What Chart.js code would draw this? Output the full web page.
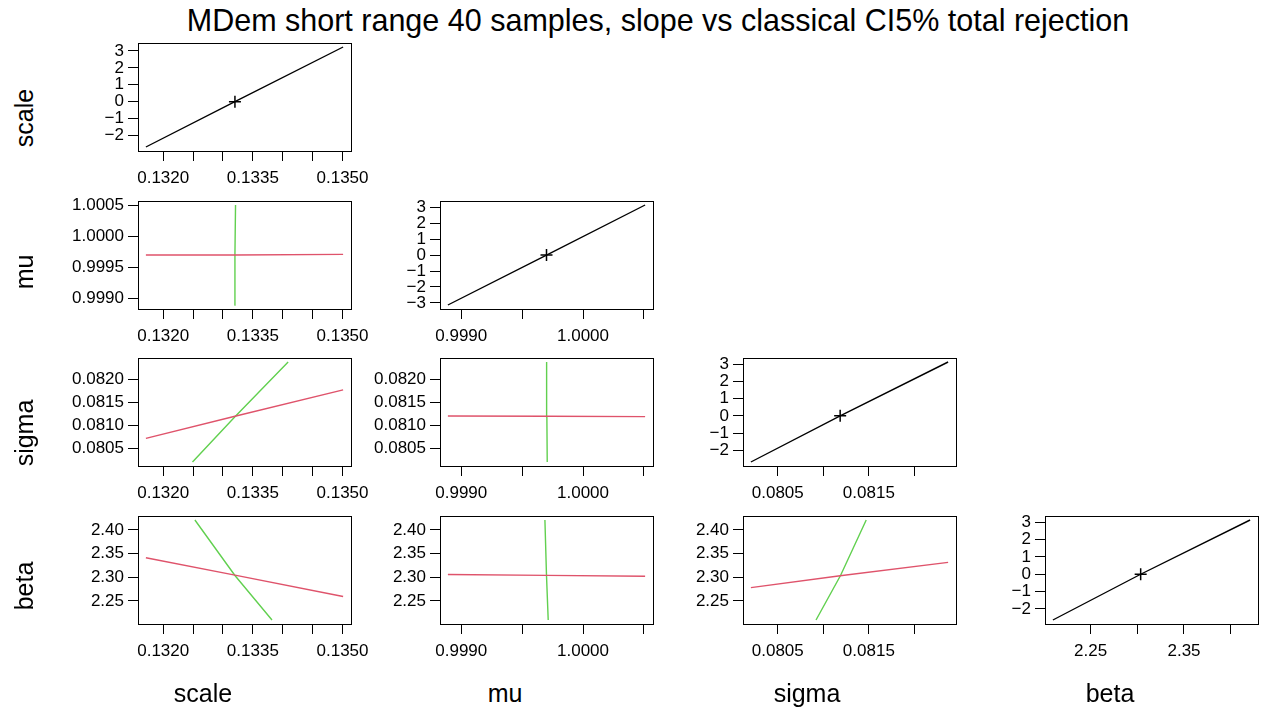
<!DOCTYPE html>
<html>
<head>
<meta charset="utf-8">
<script src="https://cdn.jsdelivr.net/npm/chart.js@4.4.0/dist/chart.umd.min.js"></script>
<style>
  body { margin: 0; background: #fff; width: 1262px; height: 713px; position: relative; overflow: hidden;
         font-family: "Liberation Sans", Arial, sans-serif; }
  canvas { position: absolute; }
  .t { position: absolute; white-space: nowrap; color: #000; }
</style>
</head>
<body>
<div class="t" id="title" style="left:0;width:1316px;text-align:center;top:5px;font-size:30.5px;line-height:30px;">MDem short range 40 samples, slope vs classical CI5% total rejection</div>
<script>
// parameter names (rows / columns)
const varNames = ['scale', 'mu', 'sigma', 'beta'];

// profile grid of each parameter (low end, MLE, high end) and its signed root deviance
const scaleGrid = [0.13171, 0.13320, 0.13501];
const muGrid = [0.99889, 0.99970, 1.00051];
const sigmaGrid = [0.080205, 0.081185, 0.08237];
const betaGrid = [2.2096, 2.3036, 2.4208];

const scaleZ = [-2.67, 0, 3.23];
const muZ = [-3.13, 0, 3.14];
const sigmaZ = [-2.68, 0, 3.13];
const betaZ = [-2.64, 0, 3.13];

// the other parameters along each profile
const scaleProfMu = [0.99970, 0.99970, 0.99971];
const scaleProfSigma = [0.080717, 0.081195, 0.081767];
const scaleProfBeta = [2.341, 2.3045, 2.2592];

const muProfScale = [0.13319, 0.13320, 0.13321];
const muProfSigma = [0.081200, 0.081194, 0.081188];
const muProfBeta = [2.3056, 2.3039, 2.3021];

const sigmaProfScale = [0.13249, 0.13320, 0.13409];
const sigmaProfMu = [0.999706, 0.999703, 0.999701];
const sigmaProfBeta = [2.278, 2.303, 2.3314];

const betaProfScale = [0.13382, 0.13320, 0.13253];
const betaProfMu = [0.999714, 0.99970, 0.999687];
const betaProfSigma = [0.08092, 0.081189, 0.081471];

// tick positions and labels
const scaleTicks = [0.1320, 0.1325, 0.1330, 0.1335, 0.1340, 0.1345, 0.1350];
const scaleXLabels = ['0.1320', '', '', '0.1335', '', '', '0.1350'];
const muTicks = [0.9990, 0.9995, 1.0000, 1.0005];
const muXLabels = ['0.9990', '', '1.0000', ''];
const muYLabels = ['0.9990', '0.9995', '1.0000', '1.0005'];
const sigmaTicks = [0.0805, 0.0810, 0.0815, 0.0820];
const sigmaXLabels = ['0.0805', '', '0.0815', ''];
const sigmaYLabels = ['0.0805', '0.0810', '0.0815', '0.0820'];
const betaTicks = [2.25, 2.30, 2.35, 2.40];
const betaXLabels = ['2.25', '', '2.35', ''];
const betaYLabels = ['2.25', '2.30', '2.35', '2.40'];
const zTicks = [-2, -1, 0, 1, 2, 3];
const zTicksWide = [-3, -2, -1, 0, 1, 2, 3];

const RED = '#DF536B';
const GREEN = '#61D04F';
const TICK_FONT = { family: 'Liberation Sans, Arial, sans-serif', size: 17 };

const grids = [scaleGrid, muGrid, sigmaGrid, betaGrid];
const zs = [scaleZ, muZ, sigmaZ, betaZ];
const prof = [
  [scaleGrid, scaleProfMu, scaleProfSigma, scaleProfBeta],
  [muProfScale, muGrid, muProfSigma, muProfBeta],
  [sigmaProfScale, sigmaProfMu, sigmaGrid, sigmaProfBeta],
  [betaProfScale, betaProfMu, betaProfSigma, betaGrid]
];
const xTicks = [scaleTicks, muTicks, sigmaTicks, betaTicks];
const xLabels = [scaleXLabels, muXLabels, sigmaXLabels, betaXLabels];
const yLabels = [null, muYLabels, sigmaYLabels, betaYLabels];

const minus = s => String(s).replace('-', '\u2212');

// R style 4% range extension
function ext(arr) {
  const lo = Math.min(...arr), hi = Math.max(...arr), d = (hi - lo) * 0.04;
  return [lo - d, hi + d];
}
const pts = (xs, ys) => xs.map((x, i) => ({ x: x, y: ys[i] }));

const boxPlugin = {
  id: 'box',
  afterDraw(chart) {
    const a = chart.chartArea, ctx = chart.ctx;
    ctx.save();
    ctx.strokeStyle = '#000';
    ctx.lineWidth = 1;
    ctx.strokeRect(Math.round(a.left) + 0.5, Math.round(a.top) + 0.5,
                   Math.round(a.right - a.left), Math.round(a.bottom - a.top));
    ctx.restore();
  }
};

function lineSet(data, color) {
  return { data: data, showLine: true, borderColor: color, borderWidth: 1.4,
           pointRadius: 0, tension: 0, fill: false };
}

function panel(r, c) {
  const boxL = Math.round(138 + 302.3 * c), boxT = Math.round(43 + 157.5 * r);
  const boxW = 213, boxH = 108;
  const YW = 100, XH = 50, PT = 8, PR = 34;
  const cv = document.createElement('canvas');
  cv.width = YW + boxW + PR;
  cv.height = PT + boxH + XH;
  cv.style.left = (boxL - YW) + 'px';
  cv.style.top = (boxT - PT) + 'px';
  document.body.appendChild(cv);

  let datasets, yTicks, yLab, yRange;
  if (r === c) {
    yTicks = r === 1 ? zTicksWide : zTicks;
    yLab = yTicks.map(minus);
    yRange = ext(zs[r]);
    datasets = [
      lineSet(pts(grids[r], zs[r]), '#000'),
      { data: [{ x: grids[r][1], y: 0 }], pointStyle: 'cross', pointRadius: 6,
        borderColor: '#000', borderWidth: 1.5, showLine: false }
    ];
  } else {
    yTicks = xTicks[r];
    yLab = yLabels[r];
    yRange = ext(grids[r]);
    datasets = [
      lineSet(pts(grids[c], prof[c][r]), RED),
      lineSet(pts(prof[r][c], grids[r]), GREEN)
    ];
  }
  const xRange = ext(grids[c]);

  new Chart(cv, {
    type: 'scatter',
    data: { datasets: datasets },
    options: {
      responsive: false,
      animation: false,
      layout: { padding: { left: 0, top: PT, right: PR, bottom: 0 } },
      plugins: { legend: { display: false }, tooltip: { enabled: false } },
      scales: {
        x: {
          type: 'linear', min: xRange[0], max: xRange[1],
          afterBuildTicks: s => { s.ticks = xTicks[c].map(v => ({ value: v })); },
          afterFit: s => { s.height = XH; s.paddingLeft = 0; s.paddingRight = 0; },
          ticks: { autoSkip: false, maxRotation: 0, minRotation: 0, padding: 7,
                   color: '#000', font: TICK_FONT, callback: (v, i) => xLabels[c][i] },
          grid: { drawOnChartArea: false, tickLength: 10, color: '#000', lineWidth: 1 },
          border: { display: false }
        },
        y: {
          type: 'linear', min: yRange[0], max: yRange[1],
          afterBuildTicks: s => { s.ticks = yTicks.map(v => ({ value: v })); },
          afterFit: s => { s.width = YW; s.paddingTop = 0; s.paddingBottom = 0; },
          ticks: { autoSkip: false, padding: 4, color: '#000', font: TICK_FONT,
                   callback: (v, i) => yLab[i] },
          grid: { drawOnChartArea: false, tickLength: 10, color: '#000', lineWidth: 1 },
          border: { display: false }
        }
      }
    },
    plugins: [boxPlugin]
  });
}

for (let r = 0; r < 4; r++) {
  for (let c = 0; c <= r; c++) panel(r, c);
}

// row labels (rotated) and column labels
const rowLabelY = [118, 272, 433, 586];
const colLabelX = [203, 505, 807, 1110];
varNames.forEach((name, i) => {
  const d = document.createElement('div');
  d.className = 't';
  d.textContent = name;
  d.style.fontSize = '25px';
  d.style.lineHeight = '25px';
  d.style.left = '24px';
  d.style.top = rowLabelY[i] + 'px';
  d.style.transform = 'translate(-50%, -50%) rotate(-90deg)';
  document.body.appendChild(d);

  const e = document.createElement('div');
  e.className = 't';
  e.textContent = name;
  e.style.fontSize = '25px';
  e.style.lineHeight = '25px';
  e.style.left = colLabelX[i] + 'px';
  e.style.top = '681px';
  e.style.transform = 'translateX(-50%)';
  document.body.appendChild(e);
});
</script>
</body>
</html>
